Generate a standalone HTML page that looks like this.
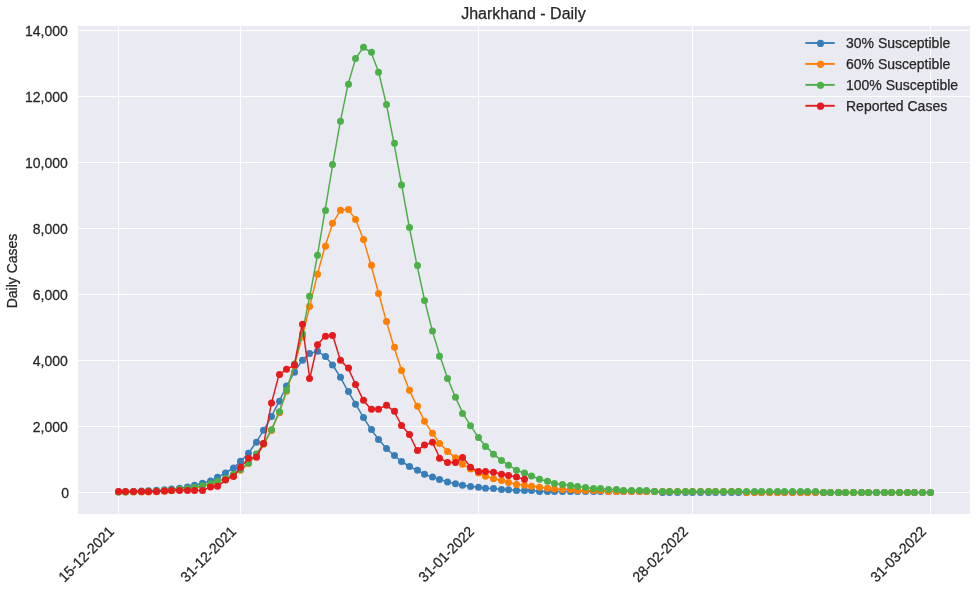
<!DOCTYPE html>
<html><head><meta charset="utf-8"><title>Jharkhand - Daily</title>
<style>
html,body{margin:0;padding:0;background:#fff;}
body{width:977px;height:591px;overflow:hidden;}
svg{display:block;will-change:transform;font-family:"Liberation Sans",sans-serif;}
text{fill:#262626;stroke:#262626;stroke-width:0.25px;}
</style></head><body>
<svg width="977" height="591" viewBox="0 0 977 591">
<rect x="0" y="0" width="977" height="591" fill="#ffffff"/>
<rect x="78" y="26" width="892" height="488" fill="#eaeaf2"/>
<g stroke="#ffffff" stroke-width="1" shape-rendering="crispEdges"><line x1="118.5" y1="26" x2="118.5" y2="514"/><line x1="240.5" y1="26" x2="240.5" y2="514"/><line x1="478.5" y1="26" x2="478.5" y2="514"/><line x1="692.5" y1="26" x2="692.5" y2="514"/><line x1="930.5" y1="26" x2="930.5" y2="514"/><line x1="78" y1="30.5" x2="970" y2="30.5"/><line x1="78" y1="96.5" x2="970" y2="96.5"/><line x1="78" y1="162.5" x2="970" y2="162.5"/><line x1="78" y1="228.5" x2="970" y2="228.5"/><line x1="78" y1="294.5" x2="970" y2="294.5"/><line x1="78" y1="360.5" x2="970" y2="360.5"/><line x1="78" y1="426.5" x2="970" y2="426.5"/><line x1="78" y1="492.5" x2="970" y2="492.5"/></g>
<g>
<polyline fill="none" stroke="#377eb8" stroke-width="1.5" stroke-linejoin="round" stroke-linecap="butt" points="118.25,491.82 125.91,491.63 133.57,491.40 141.23,491.10 148.89,490.75 156.55,490.30 164.21,489.70 171.87,489.10 179.53,488.20 187.19,487.10 194.85,485.20 202.51,483.20 210.17,481.00 217.84,477.20 225.50,473.00 233.16,468.00 240.82,461.30 248.48,453.20 256.14,442.20 263.80,430.20 271.46,416.50 279.12,401.30 286.78,385.90 294.44,372.20 302.10,360.30 309.76,353.40 317.42,351.20 325.08,356.40 332.74,365.00 340.40,377.30 348.06,391.40 355.72,404.20 363.38,417.40 371.04,429.50 378.70,439.50 386.36,448.50 394.02,455.50 401.68,461.50 409.35,466.50 417.01,470.20 424.67,474.20 432.33,477.10 439.99,479.40 447.65,482.00 455.31,483.70 462.97,485.30 470.63,486.50 478.29,487.30 485.95,488.30 493.61,488.60 501.27,489.40 508.93,489.80 516.59,490.60 524.25,490.50 531.91,490.50 539.57,491.50 547.23,491.50 554.89,491.50 562.55,491.50 570.21,491.50 577.87,491.50 585.53,491.50 593.19,491.50 600.86,491.50 608.52,491.50 616.18,491.50 623.84,491.50 631.50,491.50 639.16,491.50 646.82,491.50 654.48,491.50 662.14,492.50 669.80,492.50 677.46,492.50 685.12,492.50 692.78,492.50 700.44,492.50 708.10,492.50 715.76,492.50 723.42,492.50 731.08,492.50 738.74,492.50 746.40,492.50 754.06,492.50 761.72,492.50 769.38,492.50 777.04,492.50 784.70,492.50 792.37,492.50 800.03,492.50 807.69,492.50 815.35,492.50 823.01,492.50 830.67,492.50 838.33,492.50 845.99,492.50 853.65,492.50 861.31,492.50 868.97,492.50 876.63,492.50 884.29,492.50 891.95,492.50 899.61,492.50 907.27,492.50 914.93,492.50 922.59,492.50 930.25,492.50"/>
<g fill="#377eb8"><circle cx="118.50" cy="491.82" r="3.5"/><circle cx="125.50" cy="491.63" r="3.5"/><circle cx="133.50" cy="491.40" r="3.5"/><circle cx="141.50" cy="491.10" r="3.5"/><circle cx="148.50" cy="490.75" r="3.5"/><circle cx="156.50" cy="490.30" r="3.5"/><circle cx="164.50" cy="489.70" r="3.5"/><circle cx="171.50" cy="489.10" r="3.5"/><circle cx="179.50" cy="488.20" r="3.5"/><circle cx="187.50" cy="487.10" r="3.5"/><circle cx="194.50" cy="485.20" r="3.5"/><circle cx="202.50" cy="483.20" r="3.5"/><circle cx="210.50" cy="481.00" r="3.5"/><circle cx="217.50" cy="477.20" r="3.5"/><circle cx="225.50" cy="473.00" r="3.5"/><circle cx="233.50" cy="468.00" r="3.5"/><circle cx="240.50" cy="461.30" r="3.5"/><circle cx="248.50" cy="453.20" r="3.5"/><circle cx="256.50" cy="442.20" r="3.5"/><circle cx="263.50" cy="430.20" r="3.5"/><circle cx="271.50" cy="416.50" r="3.5"/><circle cx="279.50" cy="401.30" r="3.5"/><circle cx="286.50" cy="385.90" r="3.5"/><circle cx="294.50" cy="372.20" r="3.5"/><circle cx="302.50" cy="360.30" r="3.5"/><circle cx="309.50" cy="353.40" r="3.5"/><circle cx="317.50" cy="351.20" r="3.5"/><circle cx="325.50" cy="356.40" r="3.5"/><circle cx="332.50" cy="365.00" r="3.5"/><circle cx="340.50" cy="377.30" r="3.5"/><circle cx="348.50" cy="391.40" r="3.5"/><circle cx="355.50" cy="404.20" r="3.5"/><circle cx="363.50" cy="417.40" r="3.5"/><circle cx="371.50" cy="429.50" r="3.5"/><circle cx="378.50" cy="439.50" r="3.5"/><circle cx="386.50" cy="448.50" r="3.5"/><circle cx="394.50" cy="455.50" r="3.5"/><circle cx="401.50" cy="461.50" r="3.5"/><circle cx="409.50" cy="466.50" r="3.5"/><circle cx="417.50" cy="470.20" r="3.5"/><circle cx="424.50" cy="474.20" r="3.5"/><circle cx="432.50" cy="477.10" r="3.5"/><circle cx="439.50" cy="479.40" r="3.5"/><circle cx="447.50" cy="482.00" r="3.5"/><circle cx="455.50" cy="483.70" r="3.5"/><circle cx="462.50" cy="485.30" r="3.5"/><circle cx="470.50" cy="486.50" r="3.5"/><circle cx="478.50" cy="487.30" r="3.5"/><circle cx="485.50" cy="488.30" r="3.5"/><circle cx="493.50" cy="488.60" r="3.5"/><circle cx="501.50" cy="489.40" r="3.5"/><circle cx="508.50" cy="489.80" r="3.5"/><circle cx="516.50" cy="490.60" r="3.5"/><circle cx="524.50" cy="490.50" r="3.5"/><circle cx="531.50" cy="490.50" r="3.5"/><circle cx="539.50" cy="491.50" r="3.5"/><circle cx="547.50" cy="491.50" r="3.5"/><circle cx="554.50" cy="491.50" r="3.5"/><circle cx="562.50" cy="491.50" r="3.5"/><circle cx="570.50" cy="491.50" r="3.5"/><circle cx="577.50" cy="491.50" r="3.5"/><circle cx="585.50" cy="491.50" r="3.5"/><circle cx="593.50" cy="491.50" r="3.5"/><circle cx="600.50" cy="491.50" r="3.5"/><circle cx="608.50" cy="491.50" r="3.5"/><circle cx="616.50" cy="491.50" r="3.5"/><circle cx="623.50" cy="491.50" r="3.5"/><circle cx="631.50" cy="491.50" r="3.5"/><circle cx="639.50" cy="491.50" r="3.5"/><circle cx="646.50" cy="491.50" r="3.5"/><circle cx="654.50" cy="491.50" r="3.5"/><circle cx="662.50" cy="492.50" r="3.5"/><circle cx="669.50" cy="492.50" r="3.5"/><circle cx="677.50" cy="492.50" r="3.5"/><circle cx="685.50" cy="492.50" r="3.5"/><circle cx="692.50" cy="492.50" r="3.5"/><circle cx="700.50" cy="492.50" r="3.5"/><circle cx="708.50" cy="492.50" r="3.5"/><circle cx="715.50" cy="492.50" r="3.5"/><circle cx="723.50" cy="492.50" r="3.5"/><circle cx="731.50" cy="492.50" r="3.5"/><circle cx="738.50" cy="492.50" r="3.5"/><circle cx="746.50" cy="492.50" r="3.5"/><circle cx="754.50" cy="492.50" r="3.5"/><circle cx="761.50" cy="492.50" r="3.5"/><circle cx="769.50" cy="492.50" r="3.5"/><circle cx="777.50" cy="492.50" r="3.5"/><circle cx="784.50" cy="492.50" r="3.5"/><circle cx="792.50" cy="492.50" r="3.5"/><circle cx="800.50" cy="492.50" r="3.5"/><circle cx="807.50" cy="492.50" r="3.5"/><circle cx="815.50" cy="492.50" r="3.5"/><circle cx="823.50" cy="492.50" r="3.5"/><circle cx="830.50" cy="492.50" r="3.5"/><circle cx="838.50" cy="492.50" r="3.5"/><circle cx="845.50" cy="492.50" r="3.5"/><circle cx="853.50" cy="492.50" r="3.5"/><circle cx="861.50" cy="492.50" r="3.5"/><circle cx="868.50" cy="492.50" r="3.5"/><circle cx="876.50" cy="492.50" r="3.5"/><circle cx="884.50" cy="492.50" r="3.5"/><circle cx="891.50" cy="492.50" r="3.5"/><circle cx="899.50" cy="492.50" r="3.5"/><circle cx="907.50" cy="492.50" r="3.5"/><circle cx="914.50" cy="492.50" r="3.5"/><circle cx="922.50" cy="492.50" r="3.5"/><circle cx="930.50" cy="492.50" r="3.5"/></g>
<polyline fill="none" stroke="#ff7f00" stroke-width="1.5" stroke-linejoin="round" stroke-linecap="butt" points="118.25,492.00 125.91,492.00 133.57,492.00 141.23,492.00 148.89,492.00 156.55,491.70 164.21,491.30 171.87,490.75 179.53,490.05 187.19,489.15 194.85,488.00 202.51,486.50 210.17,484.50 217.84,482.00 225.50,478.90 233.16,475.00 240.82,470.20 248.48,463.60 256.14,454.80 263.80,444.30 271.46,430.40 279.12,412.80 286.78,391.30 294.44,365.50 302.10,337.00 309.76,306.40 317.42,274.20 325.08,246.30 332.74,223.30 340.40,210.20 348.06,209.40 355.72,219.40 363.38,239.40 371.04,265.30 378.70,293.50 386.36,321.40 394.02,347.30 401.68,370.40 409.35,390.30 417.01,406.20 424.67,421.20 432.33,433.30 439.99,443.50 447.65,451.40 455.31,457.80 462.97,464.30 470.63,468.90 478.29,473.00 485.95,476.30 493.61,478.80 501.27,480.40 508.93,482.40 516.59,484.50 524.25,485.30 531.91,486.20 539.57,487.30 547.23,488.30 554.89,488.90 562.55,489.50 570.21,489.50 577.87,490.50 585.53,490.50 593.19,490.50 600.86,490.50 608.52,491.50 616.18,491.50 623.84,491.50 631.50,491.50 639.16,491.50 646.82,491.50 654.48,491.50 662.14,491.50 669.80,491.50 677.46,491.50 685.12,491.50 692.78,491.50 700.44,491.50 708.10,491.50 715.76,491.50 723.42,491.50 731.08,491.50 738.74,491.50 746.40,492.50 754.06,492.50 761.72,492.50 769.38,492.50 777.04,492.50 784.70,492.50 792.37,492.50 800.03,492.50 807.69,492.50 815.35,492.50 823.01,492.50 830.67,492.50 838.33,492.50 845.99,492.50 853.65,492.50 861.31,492.50 868.97,492.50 876.63,492.50 884.29,492.50 891.95,492.50 899.61,492.50 907.27,492.50 914.93,492.50 922.59,492.50 930.25,492.50"/>
<g fill="#ff7f00"><circle cx="118.50" cy="492.00" r="3.5"/><circle cx="125.50" cy="492.00" r="3.5"/><circle cx="133.50" cy="492.00" r="3.5"/><circle cx="141.50" cy="492.00" r="3.5"/><circle cx="148.50" cy="492.00" r="3.5"/><circle cx="156.50" cy="491.70" r="3.5"/><circle cx="164.50" cy="491.30" r="3.5"/><circle cx="171.50" cy="490.75" r="3.5"/><circle cx="179.50" cy="490.05" r="3.5"/><circle cx="187.50" cy="489.15" r="3.5"/><circle cx="194.50" cy="488.00" r="3.5"/><circle cx="202.50" cy="486.50" r="3.5"/><circle cx="210.50" cy="484.50" r="3.5"/><circle cx="217.50" cy="482.00" r="3.5"/><circle cx="225.50" cy="478.90" r="3.5"/><circle cx="233.50" cy="475.00" r="3.5"/><circle cx="240.50" cy="470.20" r="3.5"/><circle cx="248.50" cy="463.60" r="3.5"/><circle cx="256.50" cy="454.80" r="3.5"/><circle cx="263.50" cy="444.30" r="3.5"/><circle cx="271.50" cy="430.40" r="3.5"/><circle cx="279.50" cy="412.80" r="3.5"/><circle cx="286.50" cy="391.30" r="3.5"/><circle cx="294.50" cy="365.50" r="3.5"/><circle cx="302.50" cy="337.00" r="3.5"/><circle cx="309.50" cy="306.40" r="3.5"/><circle cx="317.50" cy="274.20" r="3.5"/><circle cx="325.50" cy="246.30" r="3.5"/><circle cx="332.50" cy="223.30" r="3.5"/><circle cx="340.50" cy="210.20" r="3.5"/><circle cx="348.50" cy="209.40" r="3.5"/><circle cx="355.50" cy="219.40" r="3.5"/><circle cx="363.50" cy="239.40" r="3.5"/><circle cx="371.50" cy="265.30" r="3.5"/><circle cx="378.50" cy="293.50" r="3.5"/><circle cx="386.50" cy="321.40" r="3.5"/><circle cx="394.50" cy="347.30" r="3.5"/><circle cx="401.50" cy="370.40" r="3.5"/><circle cx="409.50" cy="390.30" r="3.5"/><circle cx="417.50" cy="406.20" r="3.5"/><circle cx="424.50" cy="421.20" r="3.5"/><circle cx="432.50" cy="433.30" r="3.5"/><circle cx="439.50" cy="443.50" r="3.5"/><circle cx="447.50" cy="451.40" r="3.5"/><circle cx="455.50" cy="457.80" r="3.5"/><circle cx="462.50" cy="464.30" r="3.5"/><circle cx="470.50" cy="468.90" r="3.5"/><circle cx="478.50" cy="473.00" r="3.5"/><circle cx="485.50" cy="476.30" r="3.5"/><circle cx="493.50" cy="478.80" r="3.5"/><circle cx="501.50" cy="480.40" r="3.5"/><circle cx="508.50" cy="482.40" r="3.5"/><circle cx="516.50" cy="484.50" r="3.5"/><circle cx="524.50" cy="485.30" r="3.5"/><circle cx="531.50" cy="486.20" r="3.5"/><circle cx="539.50" cy="487.30" r="3.5"/><circle cx="547.50" cy="488.30" r="3.5"/><circle cx="554.50" cy="488.90" r="3.5"/><circle cx="562.50" cy="489.50" r="3.5"/><circle cx="570.50" cy="489.50" r="3.5"/><circle cx="577.50" cy="490.50" r="3.5"/><circle cx="585.50" cy="490.50" r="3.5"/><circle cx="593.50" cy="490.50" r="3.5"/><circle cx="600.50" cy="490.50" r="3.5"/><circle cx="608.50" cy="491.50" r="3.5"/><circle cx="616.50" cy="491.50" r="3.5"/><circle cx="623.50" cy="491.50" r="3.5"/><circle cx="631.50" cy="491.50" r="3.5"/><circle cx="639.50" cy="491.50" r="3.5"/><circle cx="646.50" cy="491.50" r="3.5"/><circle cx="654.50" cy="491.50" r="3.5"/><circle cx="662.50" cy="491.50" r="3.5"/><circle cx="669.50" cy="491.50" r="3.5"/><circle cx="677.50" cy="491.50" r="3.5"/><circle cx="685.50" cy="491.50" r="3.5"/><circle cx="692.50" cy="491.50" r="3.5"/><circle cx="700.50" cy="491.50" r="3.5"/><circle cx="708.50" cy="491.50" r="3.5"/><circle cx="715.50" cy="491.50" r="3.5"/><circle cx="723.50" cy="491.50" r="3.5"/><circle cx="731.50" cy="491.50" r="3.5"/><circle cx="738.50" cy="491.50" r="3.5"/><circle cx="746.50" cy="492.50" r="3.5"/><circle cx="754.50" cy="492.50" r="3.5"/><circle cx="761.50" cy="492.50" r="3.5"/><circle cx="769.50" cy="492.50" r="3.5"/><circle cx="777.50" cy="492.50" r="3.5"/><circle cx="784.50" cy="492.50" r="3.5"/><circle cx="792.50" cy="492.50" r="3.5"/><circle cx="800.50" cy="492.50" r="3.5"/><circle cx="807.50" cy="492.50" r="3.5"/><circle cx="815.50" cy="492.50" r="3.5"/><circle cx="823.50" cy="492.50" r="3.5"/><circle cx="830.50" cy="492.50" r="3.5"/><circle cx="838.50" cy="492.50" r="3.5"/><circle cx="845.50" cy="492.50" r="3.5"/><circle cx="853.50" cy="492.50" r="3.5"/><circle cx="861.50" cy="492.50" r="3.5"/><circle cx="868.50" cy="492.50" r="3.5"/><circle cx="876.50" cy="492.50" r="3.5"/><circle cx="884.50" cy="492.50" r="3.5"/><circle cx="891.50" cy="492.50" r="3.5"/><circle cx="899.50" cy="492.50" r="3.5"/><circle cx="907.50" cy="492.50" r="3.5"/><circle cx="914.50" cy="492.50" r="3.5"/><circle cx="922.50" cy="492.50" r="3.5"/><circle cx="930.50" cy="492.50" r="3.5"/></g>
<polyline fill="none" stroke="#4daf4a" stroke-width="1.5" stroke-linejoin="round" stroke-linecap="butt" points="118.25,492.08 125.91,491.95 133.57,491.80 141.23,491.60 148.89,491.35 156.55,491.00 164.21,490.60 171.87,490.05 179.53,489.35 187.19,488.45 194.85,487.30 202.51,485.80 210.17,483.80 217.84,481.30 225.50,478.20 233.16,474.30 240.82,469.50 248.48,462.90 256.14,454.10 263.80,443.60 271.46,429.70 279.12,411.80 286.78,390.30 294.44,363.90 302.10,333.70 309.76,296.30 317.42,255.30 325.08,210.40 332.74,164.50 340.40,121.20 348.06,84.30 355.72,58.40 363.38,47.30 371.04,52.30 378.70,72.30 386.36,104.40 394.02,143.30 401.68,185.10 409.35,227.40 417.01,265.40 424.67,300.50 432.33,330.90 439.99,356.30 447.65,378.40 455.31,397.30 462.97,413.40 470.63,425.80 478.29,437.40 485.95,446.40 493.61,454.20 501.27,460.40 508.93,465.30 516.59,470.20 524.25,473.00 531.91,476.00 539.57,479.20 547.23,481.30 554.89,483.40 562.55,484.50 570.21,485.50 577.87,486.50 585.53,487.50 593.19,488.50 600.86,488.50 608.52,489.50 616.18,489.50 623.84,490.50 631.50,490.50 639.16,490.50 646.82,490.50 654.48,491.50 662.14,491.50 669.80,491.50 677.46,491.50 685.12,491.50 692.78,491.50 700.44,491.50 708.10,491.50 715.76,491.50 723.42,491.50 731.08,491.50 738.74,491.50 746.40,491.50 754.06,491.50 761.72,491.50 769.38,491.50 777.04,491.50 784.70,491.50 792.37,491.50 800.03,491.50 807.69,491.50 815.35,491.50 823.01,492.50 830.67,492.50 838.33,492.50 845.99,492.50 853.65,492.50 861.31,492.50 868.97,492.50 876.63,492.50 884.29,492.50 891.95,492.50 899.61,492.50 907.27,492.50 914.93,492.50 922.59,492.50 930.25,492.50"/>
<g fill="#4daf4a"><circle cx="118.50" cy="492.08" r="3.5"/><circle cx="125.50" cy="491.95" r="3.5"/><circle cx="133.50" cy="491.80" r="3.5"/><circle cx="141.50" cy="491.60" r="3.5"/><circle cx="148.50" cy="491.35" r="3.5"/><circle cx="156.50" cy="491.00" r="3.5"/><circle cx="164.50" cy="490.60" r="3.5"/><circle cx="171.50" cy="490.05" r="3.5"/><circle cx="179.50" cy="489.35" r="3.5"/><circle cx="187.50" cy="488.45" r="3.5"/><circle cx="194.50" cy="487.30" r="3.5"/><circle cx="202.50" cy="485.80" r="3.5"/><circle cx="210.50" cy="483.80" r="3.5"/><circle cx="217.50" cy="481.30" r="3.5"/><circle cx="225.50" cy="478.20" r="3.5"/><circle cx="233.50" cy="474.30" r="3.5"/><circle cx="240.50" cy="469.50" r="3.5"/><circle cx="248.50" cy="462.90" r="3.5"/><circle cx="256.50" cy="454.10" r="3.5"/><circle cx="263.50" cy="443.60" r="3.5"/><circle cx="271.50" cy="429.70" r="3.5"/><circle cx="279.50" cy="411.80" r="3.5"/><circle cx="286.50" cy="390.30" r="3.5"/><circle cx="294.50" cy="363.90" r="3.5"/><circle cx="302.50" cy="333.70" r="3.5"/><circle cx="309.50" cy="296.30" r="3.5"/><circle cx="317.50" cy="255.30" r="3.5"/><circle cx="325.50" cy="210.40" r="3.5"/><circle cx="332.50" cy="164.50" r="3.5"/><circle cx="340.50" cy="121.20" r="3.5"/><circle cx="348.50" cy="84.30" r="3.5"/><circle cx="355.50" cy="58.40" r="3.5"/><circle cx="363.50" cy="47.30" r="3.5"/><circle cx="371.50" cy="52.30" r="3.5"/><circle cx="378.50" cy="72.30" r="3.5"/><circle cx="386.50" cy="104.40" r="3.5"/><circle cx="394.50" cy="143.30" r="3.5"/><circle cx="401.50" cy="185.10" r="3.5"/><circle cx="409.50" cy="227.40" r="3.5"/><circle cx="417.50" cy="265.40" r="3.5"/><circle cx="424.50" cy="300.50" r="3.5"/><circle cx="432.50" cy="330.90" r="3.5"/><circle cx="439.50" cy="356.30" r="3.5"/><circle cx="447.50" cy="378.40" r="3.5"/><circle cx="455.50" cy="397.30" r="3.5"/><circle cx="462.50" cy="413.40" r="3.5"/><circle cx="470.50" cy="425.80" r="3.5"/><circle cx="478.50" cy="437.40" r="3.5"/><circle cx="485.50" cy="446.40" r="3.5"/><circle cx="493.50" cy="454.20" r="3.5"/><circle cx="501.50" cy="460.40" r="3.5"/><circle cx="508.50" cy="465.30" r="3.5"/><circle cx="516.50" cy="470.20" r="3.5"/><circle cx="524.50" cy="473.00" r="3.5"/><circle cx="531.50" cy="476.00" r="3.5"/><circle cx="539.50" cy="479.20" r="3.5"/><circle cx="547.50" cy="481.30" r="3.5"/><circle cx="554.50" cy="483.40" r="3.5"/><circle cx="562.50" cy="484.50" r="3.5"/><circle cx="570.50" cy="485.50" r="3.5"/><circle cx="577.50" cy="486.50" r="3.5"/><circle cx="585.50" cy="487.50" r="3.5"/><circle cx="593.50" cy="488.50" r="3.5"/><circle cx="600.50" cy="488.50" r="3.5"/><circle cx="608.50" cy="489.50" r="3.5"/><circle cx="616.50" cy="489.50" r="3.5"/><circle cx="623.50" cy="490.50" r="3.5"/><circle cx="631.50" cy="490.50" r="3.5"/><circle cx="639.50" cy="490.50" r="3.5"/><circle cx="646.50" cy="490.50" r="3.5"/><circle cx="654.50" cy="491.50" r="3.5"/><circle cx="662.50" cy="491.50" r="3.5"/><circle cx="669.50" cy="491.50" r="3.5"/><circle cx="677.50" cy="491.50" r="3.5"/><circle cx="685.50" cy="491.50" r="3.5"/><circle cx="692.50" cy="491.50" r="3.5"/><circle cx="700.50" cy="491.50" r="3.5"/><circle cx="708.50" cy="491.50" r="3.5"/><circle cx="715.50" cy="491.50" r="3.5"/><circle cx="723.50" cy="491.50" r="3.5"/><circle cx="731.50" cy="491.50" r="3.5"/><circle cx="738.50" cy="491.50" r="3.5"/><circle cx="746.50" cy="491.50" r="3.5"/><circle cx="754.50" cy="491.50" r="3.5"/><circle cx="761.50" cy="491.50" r="3.5"/><circle cx="769.50" cy="491.50" r="3.5"/><circle cx="777.50" cy="491.50" r="3.5"/><circle cx="784.50" cy="491.50" r="3.5"/><circle cx="792.50" cy="491.50" r="3.5"/><circle cx="800.50" cy="491.50" r="3.5"/><circle cx="807.50" cy="491.50" r="3.5"/><circle cx="815.50" cy="491.50" r="3.5"/><circle cx="823.50" cy="492.50" r="3.5"/><circle cx="830.50" cy="492.50" r="3.5"/><circle cx="838.50" cy="492.50" r="3.5"/><circle cx="845.50" cy="492.50" r="3.5"/><circle cx="853.50" cy="492.50" r="3.5"/><circle cx="861.50" cy="492.50" r="3.5"/><circle cx="868.50" cy="492.50" r="3.5"/><circle cx="876.50" cy="492.50" r="3.5"/><circle cx="884.50" cy="492.50" r="3.5"/><circle cx="891.50" cy="492.50" r="3.5"/><circle cx="899.50" cy="492.50" r="3.5"/><circle cx="907.50" cy="492.50" r="3.5"/><circle cx="914.50" cy="492.50" r="3.5"/><circle cx="922.50" cy="492.50" r="3.5"/><circle cx="930.50" cy="492.50" r="3.5"/></g>
<polyline fill="none" stroke="#e41a1c" stroke-width="1.5" stroke-linejoin="round" stroke-linecap="butt" points="118.25,491.40 125.91,491.40 133.57,491.40 141.23,491.40 148.89,491.40 156.55,491.40 164.21,491.10 171.87,490.50 179.53,490.50 187.19,490.50 194.85,490.50 202.51,490.50 210.17,487.10 217.84,486.30 225.50,480.10 233.16,476.40 240.82,467.30 248.48,458.20 256.14,457.30 263.80,443.40 271.46,403.10 279.12,374.40 286.78,369.30 294.44,365.00 302.10,324.20 309.76,378.50 317.42,344.70 325.08,336.30 332.74,335.50 340.40,360.30 348.06,368.10 355.72,384.50 363.38,400.30 371.04,409.20 378.70,409.20 386.36,405.20 394.02,411.30 401.68,425.50 409.35,434.50 417.01,450.40 424.67,445.10 432.33,442.30 439.99,458.30 447.65,462.40 455.31,462.40 462.97,457.40 470.63,467.30 478.29,471.40 485.95,471.40 493.61,472.20 501.27,474.30 508.93,475.50 516.59,477.10 524.25,479.30"/>
<g fill="#e41a1c"><circle cx="118.50" cy="491.40" r="3.5"/><circle cx="125.50" cy="491.40" r="3.5"/><circle cx="133.50" cy="491.40" r="3.5"/><circle cx="141.50" cy="491.40" r="3.5"/><circle cx="148.50" cy="491.40" r="3.5"/><circle cx="156.50" cy="491.40" r="3.5"/><circle cx="164.50" cy="491.10" r="3.5"/><circle cx="171.50" cy="490.50" r="3.5"/><circle cx="179.50" cy="490.50" r="3.5"/><circle cx="187.50" cy="490.50" r="3.5"/><circle cx="194.50" cy="490.50" r="3.5"/><circle cx="202.50" cy="490.50" r="3.5"/><circle cx="210.50" cy="487.10" r="3.5"/><circle cx="217.50" cy="486.30" r="3.5"/><circle cx="225.50" cy="480.10" r="3.5"/><circle cx="233.50" cy="476.40" r="3.5"/><circle cx="240.50" cy="467.30" r="3.5"/><circle cx="248.50" cy="458.20" r="3.5"/><circle cx="256.50" cy="457.30" r="3.5"/><circle cx="263.50" cy="443.40" r="3.5"/><circle cx="271.50" cy="403.10" r="3.5"/><circle cx="279.50" cy="374.40" r="3.5"/><circle cx="286.50" cy="369.30" r="3.5"/><circle cx="294.50" cy="365.00" r="3.5"/><circle cx="302.50" cy="324.20" r="3.5"/><circle cx="309.50" cy="378.50" r="3.5"/><circle cx="317.50" cy="344.70" r="3.5"/><circle cx="325.50" cy="336.30" r="3.5"/><circle cx="332.50" cy="335.50" r="3.5"/><circle cx="340.50" cy="360.30" r="3.5"/><circle cx="348.50" cy="368.10" r="3.5"/><circle cx="355.50" cy="384.50" r="3.5"/><circle cx="363.50" cy="400.30" r="3.5"/><circle cx="371.50" cy="409.20" r="3.5"/><circle cx="378.50" cy="409.20" r="3.5"/><circle cx="386.50" cy="405.20" r="3.5"/><circle cx="394.50" cy="411.30" r="3.5"/><circle cx="401.50" cy="425.50" r="3.5"/><circle cx="409.50" cy="434.50" r="3.5"/><circle cx="417.50" cy="450.40" r="3.5"/><circle cx="424.50" cy="445.10" r="3.5"/><circle cx="432.50" cy="442.30" r="3.5"/><circle cx="439.50" cy="458.30" r="3.5"/><circle cx="447.50" cy="462.40" r="3.5"/><circle cx="455.50" cy="462.40" r="3.5"/><circle cx="462.50" cy="457.40" r="3.5"/><circle cx="470.50" cy="467.30" r="3.5"/><circle cx="478.50" cy="471.40" r="3.5"/><circle cx="485.50" cy="471.40" r="3.5"/><circle cx="493.50" cy="472.20" r="3.5"/><circle cx="501.50" cy="474.30" r="3.5"/><circle cx="508.50" cy="475.50" r="3.5"/><circle cx="516.50" cy="477.10" r="3.5"/><circle cx="524.50" cy="479.30" r="3.5"/></g>
</g>
<text transform="translate(67.8,35.75) scale(1,1.05)" font-size="14" text-anchor="end">14,000</text>
<text transform="translate(67.8,101.75) scale(1,1.05)" font-size="14" text-anchor="end">12,000</text>
<text transform="translate(67.8,167.75) scale(1,1.05)" font-size="14" text-anchor="end">10,000</text>
<text transform="translate(67.8,233.75) scale(1,1.05)" font-size="14" text-anchor="end">8,000</text>
<text transform="translate(67.8,299.75) scale(1,1.05)" font-size="14" text-anchor="end">6,000</text>
<text transform="translate(67.8,365.75) scale(1,1.05)" font-size="14" text-anchor="end">4,000</text>
<text transform="translate(67.8,431.75) scale(1,1.05)" font-size="14" text-anchor="end">2,000</text>
<text transform="translate(69.0,497.75) scale(1,1.05)" font-size="14" text-anchor="end">0</text>
<text transform=" translate(115.0,532.4) rotate(-45) scale(1,1.04)" font-size="14" text-anchor="end">15-12-2021</text>
<text transform=" translate(237.0,532.4) rotate(-45) scale(1,1.04)" font-size="14" text-anchor="end">31-12-2021</text>
<text transform=" translate(475.0,532.4) rotate(-45) scale(1,1.04)" font-size="14" text-anchor="end">31-01-2022</text>
<text transform=" translate(689.0,532.4) rotate(-45) scale(1,1.04)" font-size="14" text-anchor="end">28-02-2022</text>
<text transform=" translate(927.0,532.4) rotate(-45) scale(1,1.04)" font-size="14" text-anchor="end">31-03-2022</text>
 <text x="523.4" y="18.5" font-size="16" text-anchor="middle">Jharkhand - Daily</text>
<text transform=" translate(16.5,271.0) rotate(-90) scale(1,1.05)" font-size="14" text-anchor="middle">Daily Cases</text>
<line x1="805.4" y1="43.00" x2="834.7" y2="43.00" stroke="#377eb8" stroke-width="1.9"/><circle cx="820.5" cy="43.40" r="3.6" fill="#377eb8"/><text x="846.0" y="48.20" font-size="14">30% Susceptible</text>
<line x1="805.4" y1="63.93" x2="834.7" y2="63.93" stroke="#ff7f00" stroke-width="1.9"/><circle cx="820.5" cy="64.33" r="3.6" fill="#ff7f00"/><text x="846.0" y="69.13" font-size="14">60% Susceptible</text>
<line x1="805.4" y1="84.86" x2="834.7" y2="84.86" stroke="#4daf4a" stroke-width="1.9"/><circle cx="820.5" cy="85.26" r="3.6" fill="#4daf4a"/><text x="846.0" y="90.06" font-size="14">100% Susceptible</text>
<line x1="805.4" y1="105.79" x2="834.7" y2="105.79" stroke="#e41a1c" stroke-width="1.9"/><circle cx="820.5" cy="106.19" r="3.6" fill="#e41a1c"/><text x="846.0" y="110.99" font-size="14">Reported Cases</text>
</svg>
</body></html>
